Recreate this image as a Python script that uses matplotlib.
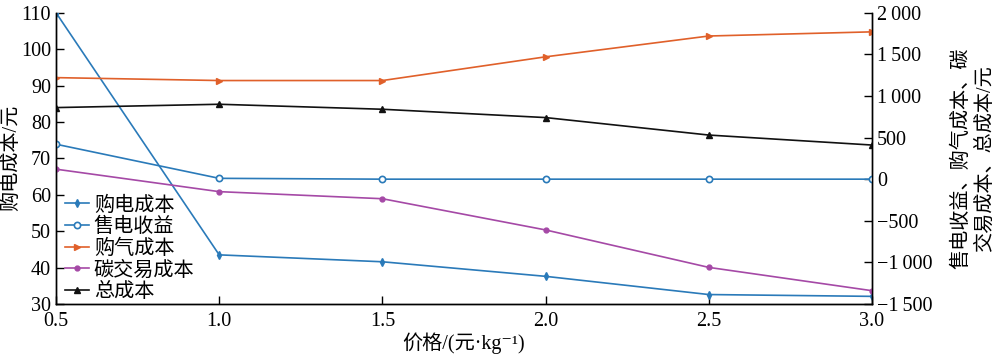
import matplotlib.pyplot as plt

plt.rcParams['font.family'] = ['Liberation Serif', 'Noto Sans CJK SC', 'DejaVu Sans']
plt.rcParams['axes.unicode_minus'] = True

price = [0.5, 1.0, 1.5, 2.0, 2.5, 3.0]
buy_elec = [110, 43.5, 41.6, 37.6, 32.6, 32.1]
sell_elec = [420, 10, 0, 0, 0, 0]
buy_gas = [1220, 1185, 1185, 1470, 1720, 1770]
carbon = [120, -150, -235, -610, -1060, -1340]
total = [860, 900, 840, 740, 530, 410]

left_ticks = [30, 40, 50, 60, 70, 80, 90, 100, 110]
right_ticks = [-1500, -1000, -500, 0, 500, 1000, 1500, 2000]
right_labels = ['\u22121\u2009500', '\u22121\u2009000', '\u2212500', '0', '500',
                '1\u2009000', '1\u2009500', '2\u2009000']

c_blue = '#2a7ab9'
c_orange = '#e0602a'
c_purple = '#a549a6'
c_black = '#111111'

fig = plt.figure(figsize=(10, 3.63), dpi=100)
ax = fig.add_axes([0.056, 0.1625, 0.816, 0.8025])
ax2 = ax.twinx()

ax.plot(price, buy_elec, color=c_blue, marker='d', ms=4, lw=1.2, label='购电成本')
ax2.plot(price, sell_elec, color=c_blue, marker='o', ms=4.5, mfc='white', mew=1.2, lw=1.2,
         label='售电收益')
ax2.plot(price, buy_gas, color=c_orange, marker='>', ms=5, lw=1.2, label='购气成本')
ax2.plot(price, carbon, color=c_purple, marker='o', ms=3.5, lw=1.2, label='碳交易成本')
ax2.plot(price, total, color=c_black, marker='^', ms=5, lw=1.2, label='总成本')

ax.set_xlim(0.5, 3.0)
ax.set_ylim(30, 110)
ax2.set_ylim(-1500, 2000)
ax.set_xticks(price)
ax.set_xticklabels(['0.5', '1.0', '1.5', '2.0', '2.5', '3.0'])
ax.set_yticks(left_ticks)
ax2.set_yticks(right_ticks)
ax2.set_yticklabels(right_labels)

for a in (ax, ax2):
    a.spines['top'].set_visible(False)
    a.tick_params(direction='in', length=6, width=1, labelsize=14.5)
    for s in a.spines.values():
        s.set_linewidth(1.0)
ax.tick_params(axis='x', pad=6)

ax.set_ylabel('购电成本/元', fontsize=14.5, labelpad=0)
ax2.set_ylabel('售电收益、购气成本、碳\n交易成本、总成本/元', fontsize=14.5, labelpad=14,
               linespacing=1.3)
ax.set_xlabel('价格/(元·kg\u207b\u00b9)', fontsize=14.5, labelpad=1)

h1, l1 = ax.get_legend_handles_labels()
h2, l2 = ax2.get_legend_handles_labels()
ax2.legend(h1 + h2, l1 + l2, loc='lower left', frameon=False, fontsize=14.5,
           handlelength=1.2, handletextpad=0.25, labelspacing=0.12,
           borderaxespad=0.0, borderpad=0.1, bbox_to_anchor=(0.008, 0.0))

fig.savefig('out.png', dpi=100)
